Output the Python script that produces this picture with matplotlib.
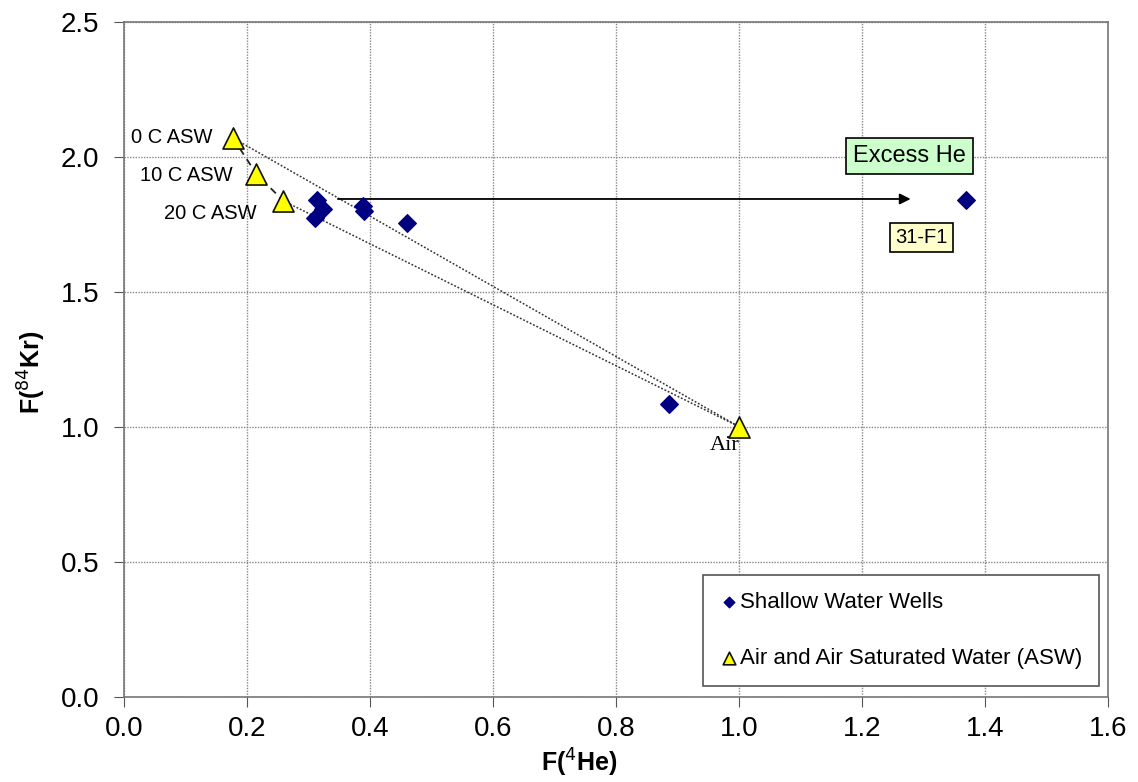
import matplotlib
matplotlib.use("Agg")
import matplotlib.pyplot as plt

plt.rcParams['font.family'] = ['Liberation Sans', 'DejaVu Sans']

# Pozos someros: F(4He), F(84Kr)
pozos_he = [0.313, 0.324, 0.311, 0.389, 0.390, 0.460, 0.885, 1.369]
pozos_kr = [1.840, 1.807, 1.774, 1.818, 1.800, 1.756, 1.085, 1.840]

# Aire y agua saturada en aire (ASW)
asw_nombres = ['0 C ASW', '10 C ASW', '20 C ASW', 'Air']
asw_he = [0.177, 0.215, 0.259, 1.000]
asw_kr = [2.070, 1.937, 1.837, 1.000]

fig = plt.figure(figsize=(11.38, 7.82), dpi=100)
ax = fig.add_axes([0.109, 0.109, 0.865, 0.863])

# Líneas de mezcla con el aire
for i in (0, 2):
    ax.plot([asw_he[i], asw_he[3]], [asw_kr[i], asw_kr[3]], linestyle=(0, (1.2, 1.2)),
            color='#333333', lw=1.1, zorder=2)
# Curva de ASW según temperatura
ax.plot(asw_he[:3], asw_kr[:3], linestyle=(0, (4, 3)), color='#222222', lw=1.3, zorder=2)

ax.scatter(pozos_he, pozos_kr, marker='D', s=80, color='#000080', edgecolors='#000080',
           zorder=4, label='Shallow Water Wells')
ax.scatter(asw_he, asw_kr, marker='^', s=230, color='#ffff00', edgecolors='#111111',
           linewidths=1.2, zorder=4, label='Air and Air Saturated Water (ASW)')

# Etiquetas de los puntos ASW
ax.text(0.143, asw_kr[0], asw_nombres[0], ha='right', va='center', fontsize=14.5)
ax.text(0.176, 1.93, asw_nombres[1], ha='right', va='center', fontsize=14.5)
ax.text(0.215, 1.789, asw_nombres[2], ha='right', va='center', fontsize=14.5)
ax.text(0.977, 0.93, asw_nombres[3], ha='center', va='center', fontsize=16,
        family=['Liberation Serif', 'DejaVu Serif'])

# Flecha de exceso de He
ax.annotate('', xy=(1.283, 1.844), xytext=(0.343, 1.844),
            arrowprops=dict(arrowstyle='-|>', color='black', lw=1.3, mutation_scale=16),
            zorder=3)
ax.text(1.277, 2.004, 'Excess He', ha='center', va='center', fontsize=17,
        bbox=dict(boxstyle='square,pad=0.3', fc='#ccffcc', ec='black', lw=1.2))
ax.text(1.296, 1.700, '31-F1', ha='center', va='center', fontsize=14.5,
        bbox=dict(boxstyle='square,pad=0.25', fc='#ffffcc', ec='black', lw=1.2))

ax.set_xlim(0, 1.6)
ax.set_ylim(0, 2.5)
ax.set_xticks([0, 0.2, 0.4, 0.6, 0.8, 1.0, 1.2, 1.4, 1.6])
ax.set_yticks([0, 0.5, 1.0, 1.5, 2.0, 2.5])
ax.xaxis.set_major_formatter(plt.FormatStrFormatter('%.1f'))
ax.yaxis.set_major_formatter(plt.FormatStrFormatter('%.1f'))
ax.tick_params(labelsize=20, direction='out', length=7, color='#555555')
ax.tick_params(axis='x', pad=7)
ax.tick_params(axis='y', pad=11)
ax.grid(True, linestyle=(0, (1, 1)), color='#888888', lw=1.0, zorder=0)
ax.set_axisbelow(True)
for s in ax.spines.values():
    s.set_color('#777777')
    s.set_linewidth(1.2)

ax.set_xlabel('F($^4$He)', fontsize=18, fontweight='bold')
ax.set_ylabel('F($^{84}$Kr)', fontsize=18, fontweight='bold')
ax.xaxis.set_label_coords(0.463, -0.074)
ax.yaxis.set_label_coords(-0.077, 0.481)

leg = ax.legend(loc='lower right', bbox_to_anchor=(0.990, 0.016), borderaxespad=0,
                fontsize=16, fancybox=False, edgecolor='#555555', framealpha=1,
                markerscale=0.6, handletextpad=0.1, labelspacing=1.6, borderpad=0.75,
                handlelength=0.8)
leg.get_frame().set_linewidth(1.2)

fig.savefig('out.png', dpi=100)
